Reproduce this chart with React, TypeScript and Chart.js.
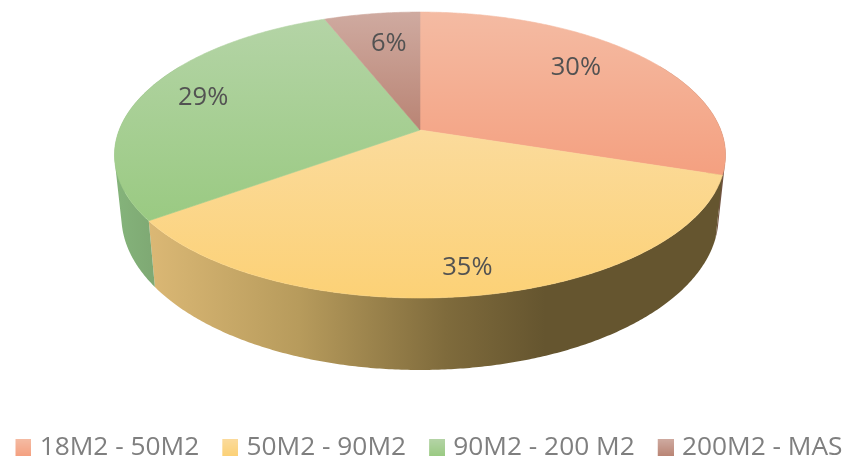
import React, { useEffect, useRef } from "react";
import { Chart, ArcElement, PieController, Legend, Tooltip } from "chart.js";

const categories = ["18M2 - 50M2", "50M2 - 90M2", "90M2 - 200 M2", "200M2 - MAS"];
const shares = [30, 35, 29, 6];

// Face gradients run top to bottom, one pair per slice.
const faceLight = ["#F4BBA3", "#FBDB9C", "#B4D4A6", "#CFAAA0"];
const faceDeep = ["#F4A080", "#FCD176", "#9ACA82", "#B98474"];
// Rim gradients run left to right across the visible wall.
const rimStops: [number, string][][] = [
  [[0, "#8A6650"], [1, "#6E5140"]],
  [[0, "#DBB875"], [0.38, "#B79B5C"], [0.75, "#7F6B3C"], [1, "#65552F"]],
  [[0, "#85B47B"], [1, "#7EA873"]],
  [[0, "#8A6A5E"], [1, "#7A5A50"]],
];
const rimSpan = [[690, 726], [148, 545], [114, 156], [330, 420]];

// Each label sits on its slice's mid-angle, then is pulled clear of the rim.
const labelReach = 0.858;
const labelNudge = [[-36, 2], [0, 0], [21, 0], [11, 16]];

const legendFont = "'Open Sans', sans-serif";
const textGrey = "#7F7F7F";
const labelGrey = "#525252";

// Perspective view of the disc: k is the foreshortening from back to front.
const view = { cx: 420, k: 0.175, top: { a: 300.8, b: 138.6, y0: 130 }, floor: { a: 294, b: 149, y0: 189.4 } };
const RAD = Math.PI / 180;

function project(turn: number, plane: { a: number; b: number; y0: number }, reach = 1) {
  const u = Math.sin(turn) * reach;
  const v = -Math.cos(turn) * reach;
  const w = 1 - view.k * v;
  return { x: view.cx + (plane.a * u) / w, y: plane.y0 + (plane.b * v) / w };
}

function sampleTurns(from: number, to: number) {
  const steps = Math.max(2, Math.ceil((to - from) / (0.5 * RAD)));
  return Array.from({ length: steps + 1 }, (_, i) => from + ((to - from) * i) / steps);
}

class Arc3D extends ArcElement {
  static id = "arc3d";

  turns() {
    const { startAngle, endAngle } = this.getProps(["startAngle", "endAngle"], true);
    return [startAngle + Math.PI / 2, endAngle + Math.PI / 2];
  }

  drawRim(ctx: CanvasRenderingContext2D, i: number) {
    const [s, e] = this.turns();
    const from = Math.max(s, 60 * RAD);
    const to = Math.min(e, 300 * RAD);
    if (to <= from) return;
    const turns = sampleTurns(from, to);
    const [x0, x1] = rimSpan[i];
    const g = ctx.createLinearGradient(x0, 0, x1, 0);
    rimStops[i].forEach(([o, c]) => g.addColorStop(o, c));
    ctx.fillStyle = g;
    // One quad per step, all wound the same way: where the disc's outline
    // folds over at either side they add up instead of cancelling out.
    ctx.beginPath();
    for (let n = 0; n < turns.length - 1; n++) {
      const quad = [
        project(turns[n], view.top),
        project(turns[n + 1], view.top),
        project(turns[n + 1], view.floor),
        project(turns[n], view.floor),
      ];
      const area = quad.reduce((sum, p, k) => {
        const q = quad[(k + 1) % 4];
        return sum + p.x * q.y - q.x * p.y;
      }, 0);
      if (area < 0) quad.reverse();
      quad.forEach((p, k) => (k ? ctx.lineTo(p.x, p.y) : ctx.moveTo(p.x, p.y)));
      ctx.closePath();
    }
    ctx.fill("nonzero");
  }

  drawFace(ctx: CanvasRenderingContext2D, i: number) {
    const [s, e] = this.turns();
    const pts = sampleTurns(s, e).map((t) => project(t, view.top));
    const apexY = view.top.y0;
    const ys = pts.map((p) => p.y).concat(apexY);
    const g = ctx.createLinearGradient(0, Math.min(...ys), 0, Math.max(...ys));
    g.addColorStop(0, faceLight[i]);
    g.addColorStop(1, faceDeep[i]);
    ctx.beginPath();
    ctx.moveTo(view.cx, apexY);
    pts.forEach((p) => ctx.lineTo(p.x, p.y));
    ctx.closePath();
    ctx.fillStyle = g;
    ctx.strokeStyle = g;
    ctx.lineWidth = 0.6;
    ctx.fill();
    ctx.stroke();
  }

  drawLabel(ctx: CanvasRenderingContext2D, i: number, text: string) {
    const [s, e] = this.turns();
    const p = project((s + e) / 2, view.top, labelReach);
    ctx.fillStyle = labelGrey;
    ctx.font = `25.5px ${legendFont}`;
    ctx.textAlign = "center";
    ctx.textBaseline = "middle";
    ctx.fillText(text, p.x + labelNudge[i][0], p.y + labelNudge[i][1]);
  }
}

class Pie3DController extends PieController {
  static id = "pie3d";
  static defaults = { dataElementType: "arc3d" };

  draw() {
    const ctx = this.chart.ctx;
    const arcs = this.getMeta().data as unknown as Arc3D[];
    // Walls first, so that every face paints over them.
    arcs.forEach((a, i) => a.drawRim(ctx, i));
    arcs.forEach((a, i) => a.drawFace(ctx, i));
    arcs.forEach((a, i) => a.drawLabel(ctx, i, `${shares[i]}%`));
  }
}

Chart.register(Arc3D, Pie3DController, Legend, Tooltip);

// Legend swatches carry the same light-to-deep gradient as the faces. The
// transparent margin on the left sets the swatch's distance from its text.
function swatch(i: number) {
  const margin = 2.5;
  const c = document.createElement("canvas");
  c.width = 16 + 2 * margin;
  c.height = 17;
  const x = c.getContext("2d")!;
  const g = x.createLinearGradient(0, 0, 0, 17);
  g.addColorStop(0, faceLight[i]);
  g.addColorStop(1, faceDeep[i]);
  x.fillStyle = g;
  x.fillRect(2 * margin, 0, 16, 17);
  return c;
}

export default function App() {
  const ref = useRef<HTMLCanvasElement>(null);
  useEffect(() => {
    document.body.style.margin = "0";
    document.body.style.background = "#FFFFFF";
    const chart = new Chart(ref.current!, {
      type: "pie3d" as any,
      data: { labels: categories, datasets: [{ data: shares, clip: false } as any] },
      options: {
        animation: false,
        responsive: false,
        layout: { padding: { bottom: -14, left: -20, right: -33 } },
        plugins: {
          tooltip: { enabled: false },
          legend: {
            position: "bottom",
            labels: {
              usePointStyle: true,
              pointStyleWidth: 11,
              padding: 23,
              color: textGrey,
              font: { family: legendFont, size: 26.3 },
              generateLabels: () =>
                categories.map((text, i) => ({
                  text,
                  index: i,
                  datasetIndex: 0,
                  hidden: false,
                  fontColor: textGrey,
                  pointStyle: swatch(i),
                  lineWidth: 0,
                })),
            },
          },
        },
      } as any,
    });
    return () => chart.destroy();
  }, []);
  return <canvas ref={ref} width={845} height={457} style={{ display: "block" }} />;
}
